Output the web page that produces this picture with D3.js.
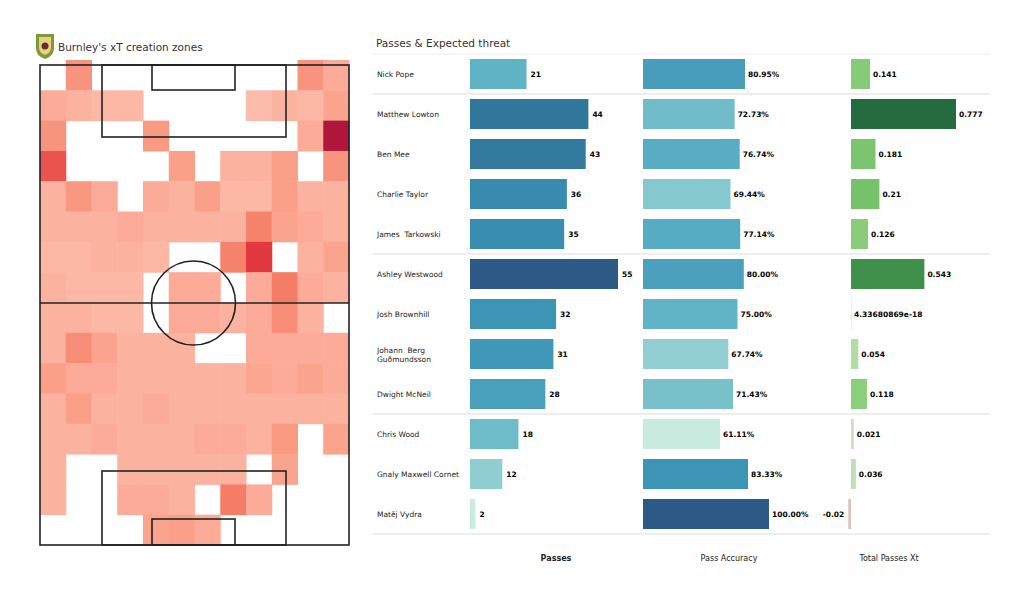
<!DOCTYPE html>
<html>
<head>
<meta charset="utf-8">
<script src="https://cdn.jsdelivr.net/npm/d3@7"></script>
<style>
  body { margin: 0; background: #fff; font-family: "DejaVu Sans", sans-serif; }
  text { white-space: pre; }
</style>
</head>
<body>
<script>
// heatmap values (16 rows top->bottom, 12 cols), 0 = empty
const xtGrid = [
  [0, .35, 0, 0, 0, 0, 0, 0, 0, 0, .35, .25],
  [.25, .22, .2, .2, 0, 0, 0, 0, .18, .22, .2, .28],
  [.35, 0, 0, 0, .32, 0, 0, 0, 0, 0, .25, .95],
  [.6, 0, 0, 0, 0, .3, 0, .22, .22, .3, 0, .35],
  [.22, .33, .25, 0, .25, .22, .3, .2, .2, .3, .22, .22],
  [.22, .22, .22, .25, .22, .22, .22, .22, .42, .28, .25, .22],
  [.2, .2, .22, .22, .2, 0, 0, .42, .7, 0, .22, .28],
  [.22, .2, .2, .2, 0, .25, .25, 0, .25, .45, .25, .22],
  [.22, .22, .2, .2, 0, .25, .25, .22, .25, .38, .22, 0],
  [.22, .38, .28, .22, .22, .22, 0, 0, .25, .25, .25, .25],
  [.3, .25, .25, .22, .22, .22, .22, .22, .27, .25, .28, .25],
  [.22, .3, .22, .22, .25, .22, .22, .22, .22, .22, .22, .22],
  [.22, .22, .25, .22, .22, .22, .25, .25, .22, .32, 0, .28],
  [.22, 0, 0, .22, .22, .22, .22, .22, 0, .28, 0, 0],
  [.22, 0, 0, .25, .25, .22, 0, .45, .25, 0, 0, 0],
  [0, 0, 0, 0, .28, .3, .25, 0, 0, 0, 0, 0]
];

const players = ["Nick Pope", "Matthew Lowton", "Ben Mee", "Charlie Taylor", "James  Tarkowski",
  "Ashley Westwood", "Josh Brownhill", "Johann  Berg|Guðmundsson", "Dwight McNeil",
  "Chris Wood", "Gnaly Maxwell Cornet", "Matěj Vydra"];
const passes = [21, 44, 43, 36, 35, 55, 32, 31, 28, 18, 12, 2];
const accuracy = [80.95, 72.73, 76.74, 69.44, 77.14, 80.00, 75.00, 67.74, 71.43, 61.11, 83.33, 100.00];
const xtTotal = [0.141, 0.777, 0.181, 0.21, 0.126, 0.543, 4.33680869e-18, 0.054, 0.118, 0.021, 0.036, -0.02];
const xtLabels = ["0.141", "0.777", "0.181", "0.21", "0.126", "0.543", "4.33680869e-18", "0.054", "0.118", "0.021", "0.036", "-0.02"];
const separatorsAfter = [0, 4, 8, 11];
const columnTitles = ["Passes", "Pass Accuracy", "Total Passes Xt"];

const W = 1024, H = 602;
const svg = d3.select("body").append("svg").attr("width", W).attr("height", H);

// ---- pitch heatmap ----
const px0 = 40, px1 = 349, py0 = 65, py1 = 545;
const gx = d3.scaleBand().domain(d3.range(12)).range([px0, px1]);
const gy = d3.scaleBand().domain(d3.range(16)).range([60, py1]);
const heat = d3.scaleLinear().domain([0.18, 0.3, 0.45, 0.7, 0.95])
  .range(["#fcbcab", "#fa9f88", "#f57d66", "#e2383f", "#b0163c"]);

const cells = [];
xtGrid.forEach((row, r) => row.forEach((v, c) => { if (v > 0) cells.push({ r, c, v }); }));
svg.append("g").selectAll("rect").data(cells).join("rect")
  .attr("x", d => gx(d.c)).attr("y", d => gy(d.r))
  .attr("width", gx.bandwidth() + 0.5).attr("height", gy.bandwidth() + 0.5)
  .attr("fill", d => heat(d.v));

const lines = svg.append("g").attr("fill", "none").attr("stroke", "#222").attr("stroke-width", 1.6);
lines.append("rect").attr("x", px0).attr("y", py0).attr("width", px1 - px0).attr("height", py1 - py0);
lines.append("line").attr("x1", px0).attr("x2", px1).attr("y1", 303).attr("y2", 303);
lines.append("circle").attr("cx", 193.5).attr("cy", 303).attr("r", 42);
lines.append("rect").attr("x", 102).attr("y", py0).attr("width", 184).attr("height", 72);
lines.append("rect").attr("x", 152).attr("y", py0).attr("width", 83).attr("height", 25);
lines.append("rect").attr("x", 102).attr("y", 471).attr("width", 184).attr("height", py1 - 471);
lines.append("rect").attr("x", 152).attr("y", 519).attr("width", 83).attr("height", py1 - 519);

// badge
const badge = svg.append("g").attr("transform", "translate(45,46)");
badge.append("path").attr("d", "M-9,-12 H9 V2 Q9,10 0,13 Q-9,10 -9,2 Z").attr("fill", "#7a9a3c");
badge.append("path").attr("d", "M-6,-9 H6 V1 Q6,7 0,9 Q-6,7 -6,1 Z").attr("fill", "#e8d27a");
badge.append("circle").attr("r", 3.5).attr("cy", 0).attr("fill", "#6b2a3a");
svg.append("text").attr("x", 58).attr("y", 51).attr("font-size", 10.5).attr("fill", "#333")
  .text("Burnley's xT creation zones");

// ---- table ----
svg.append("text").attr("x", 376).attr("y", 47).attr("font-size", 10.5).attr("fill", "#333")
  .text("Passes & Expected threat");

const y = d3.scaleBand().domain(d3.range(players.length)).range([54, 534]).paddingInner(0.25).paddingOuter(0.125);
const xP = d3.scaleLinear().domain([0, 55]).range([470, 618]);
const xA = d3.scaleLinear().domain([0, 100]).range([643, 769]);
const xX = d3.scaleLinear().domain([0, 0.777]).range([851, 956]);

const blues = ["#c9ebe0", "#8ecdd0", "#5bb0c4", "#3a92b5", "#31779c", "#2d5986"];
const cP = d3.scaleLinear().domain([2, 12, 22, 33, 44, 55]).range(blues);
const cA = d3.scaleLinear().domain([61, 68, 76, 84, 92, 100]).range(blues);
const cX = d3.scaleLinear().domain([-0.02, 0, 0.03, 0.1, 0.2, 0.55, 0.78])
  .range(["#d8c4b8", "#e0e0d8", "#c2e2b9", "#8fd07e", "#78c36c", "#3d8f4a", "#246b3f"]);

svg.append("g").selectAll("line").data(separatorsAfter).join("line")
  .attr("x1", 373).attr("x2", 990)
  .attr("y1", d => y(d) + y.bandwidth() + y.step() * 0.125)
  .attr("y2", d => y(d) + y.bandwidth() + y.step() * 0.125)
  .attr("stroke", "#ddd").attr("stroke-width", 1);
svg.append("line").attr("x1", 373).attr("x2", 990).attr("y1", 54).attr("y2", 54)
  .attr("stroke", "#eee");

const rows = svg.append("g").selectAll("g").data(players).join("g")
  .attr("transform", (d, i) => `translate(0,${y(i)})`);
const bh = y.bandwidth();

rows.append("text").attr("x", 377).attr("y", bh / 2).attr("font-size", 7.5).attr("fill", "#222")
  .each(function (d) {
    const parts = d.split("|");
    const t = d3.select(this);
    parts.forEach((p, k) => t.append("tspan").attr("x", 377)
      .attr("dy", k === 0 ? (parts.length > 1 ? -1 : 3) : 9).text(p));
  });

rows.append("rect").attr("x", xP(0)).attr("height", bh)
  .attr("width", (d, i) => xP(passes[i]) - xP(0)).attr("fill", (d, i) => cP(passes[i]));
rows.append("text").attr("x", (d, i) => xP(passes[i]) + 4).attr("y", bh / 2 + 3)
  .attr("font-size", 7.5).attr("font-weight", "bold").text((d, i) => passes[i]);

rows.append("rect").attr("x", xA(0)).attr("height", bh)
  .attr("width", (d, i) => xA(accuracy[i]) - xA(0)).attr("fill", (d, i) => cA(accuracy[i]));
rows.append("text").attr("x", (d, i) => xA(accuracy[i]) + 3).attr("y", bh / 2 + 3)
  .attr("font-size", 7.5).attr("font-weight", "bold").text((d, i) => accuracy[i].toFixed(2) + "%");

rows.append("rect").attr("height", bh)
  .attr("x", (d, i) => Math.min(xX(0), xX(xtTotal[i])))
  .attr("width", (d, i) => Math.max(0.6, Math.abs(xX(xtTotal[i]) - xX(0))))
  .attr("fill", (d, i) => cX(xtTotal[i]));
rows.append("text").attr("y", bh / 2 + 3).attr("font-size", 7.5).attr("font-weight", "bold")
  .attr("x", (d, i) => xtTotal[i] < 0 ? xX(xtTotal[i]) - 4 : xX(xtTotal[i]) + 3)
  .attr("text-anchor", (d, i) => xtTotal[i] < 0 ? "end" : "start")
  .text((d, i) => xtLabels[i]);

svg.append("g").selectAll("text").data(columnTitles).join("text")
  .attr("x", (d, i) => [556, 729, 889][i]).attr("y", 561)
  .attr("text-anchor", "middle").attr("font-size", 8)
  .attr("font-weight", (d, i) => i === 0 ? "bold" : "normal").attr("fill", "#222")
  .text(d => d);
</script>
</body>
</html>
